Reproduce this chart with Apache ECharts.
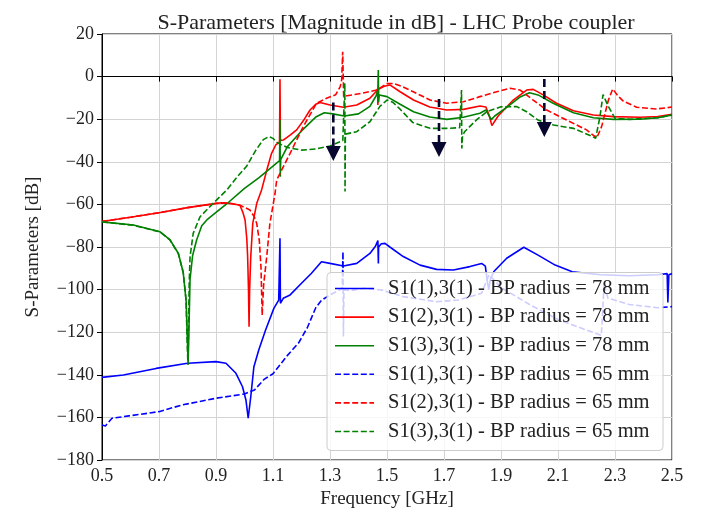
<!DOCTYPE html>
<html><head><meta charset="utf-8">
<script src="https://cdn.jsdelivr.net/npm/echarts@6/dist/echarts.min.js"></script>
<style>html,body{margin:0;padding:0;background:#fff}#c{width:701px;height:510px}</style>
</head><body><div id="c"></div>
<script>
const titleText = 'S-Parameters [Magnitude in dB] - LHC Probe coupler';
const xName = 'Frequency [GHz]';
const yName = 'S-Parameters [dB]';
const seriesNames = [
  'S1(1),3(1) - BP radius = 78 mm',
  'S1(2),3(1) - BP radius = 78 mm',
  'S1(3),3(1) - BP radius = 78 mm',
  'S1(1),3(1) - BP radius = 65 mm',
  'S1(2),3(1) - BP radius = 65 mm',
  'S1(3),3(1) - BP radius = 65 mm'
];
const xTickValues = [0.5,0.7,0.9,1.1,1.3,1.5,1.7,1.9,2.1,2.3,2.5];
const yTickValues = [-180,-160,-140,-120,-100,-80,-60,-40,-20,0,20];

// [frequency GHz, dB]
const s11_78 = [[0.5,-141.2],[0.575,-140.1],[0.69,-137],[0.8,-134.6],[0.9,-133.8],[0.935,-134.6],[0.97,-139.3],[0.993,-145.6],[1.005,-151.8],[1.013,-160.4],[1.022,-150.3],[1.033,-136.2],[1.05,-128.4],[1.074,-119],[1.103,-108.8],[1.12,-104.9],[1.1245,-75.9],[1.126,-106.4],[1.136,-104.1],[1.16,-102.5],[1.2,-97],[1.235,-92.3],[1.27,-86.9],[1.3,-87.7],[1.347,-88.9],[1.394,-87.7],[1.44,-83],[1.46,-79.5],[1.468,-77],[1.469,-76.7],[1.4697,-87.7],[1.4705,-80],[1.48,-78.5],[1.493,-78.3],[1.51,-80],[1.557,-84.5],[1.616,-88.5],[1.674,-90.5],[1.733,-90.8],[1.791,-89.2],[1.832,-87.7],[1.845,-89],[1.852,-96],[1.857,-100],[1.863,-95],[1.875,-91.5],[1.92,-85.3],[1.98,-80.1],[2.03,-83.8],[2.09,-88.5],[2.15,-91.6],[2.25,-93],[2.35,-93.5],[2.45,-93],[2.483,-92.5],[2.4855,-106],[2.489,-93],[2.5,-92.5]];
const s12_78 = [[0.5,-68],[0.6,-66],[0.7,-63.9],[0.8,-61.5],[0.9,-59.5],[0.92,-59.2],[0.95,-59.5],[0.984,-60.4],[0.995,-64],[1.002,-67.3],[1.008,-76],[1.011,-84.5],[1.014,-100],[1.016,-117.4],[1.018,-100],[1.022,-84.5],[1.029,-68.9],[1.043,-59.5],[1.06,-53.2],[1.08,-43],[1.095,-36],[1.11,-32],[1.123,-30.6],[1.1245,-1.3],[1.126,-30],[1.136,-29.8],[1.16,-27.5],[1.183,-25],[1.21,-20],[1.23,-15.7],[1.25,-13],[1.265,-12.2],[1.3,-13.3],[1.347,-14.4],[1.394,-13.3],[1.44,-10.2],[1.462,-7],[1.467,-5.8],[1.468,-13.3],[1.47,-6],[1.49,-4.5],[1.51,-3.9],[1.546,-7.1],[1.593,-11],[1.65,-14.3],[1.71,-15.7],[1.768,-15.4],[1.826,-13.8],[1.847,-14.3],[1.858,-18],[1.868,-23],[1.89,-18.5],[1.943,-11],[1.99,-6.3],[2.013,-6],[2.048,-8.6],[2.095,-12.5],[2.154,-16],[2.224,-18],[2.294,-18.8],[2.388,-19.1],[2.45,-18.7],[2.5,-17.7]];
const s13_78 = [[0.5,-68.2],[0.61,-69.7],[0.703,-72.8],[0.739,-76.7],[0.768,-83],[0.785,-92],[0.795,-105],[0.8,-125],[0.802,-135.4],[0.804,-125],[0.809,-95],[0.818,-84],[0.832,-76.7],[0.85,-70],[0.87,-67],[0.9,-63.8],[0.944,-59],[1.0,-52.5],[1.05,-47.5],[1.1,-42],[1.123,-39.5],[1.1245,-20.4],[1.1255,-47],[1.127,-39],[1.15,-33],[1.2,-25.5],[1.25,-19],[1.28,-17],[1.31,-17.5],[1.35,-18.5],[1.4,-17.5],[1.44,-14],[1.462,-9],[1.468,-6],[1.4695,3.1],[1.4705,-12],[1.473,-8.6],[1.5,-9.4],[1.546,-13],[1.593,-16.5],[1.65,-19],[1.71,-20.1],[1.768,-19.1],[1.826,-17.2],[1.847,-15.7],[1.866,-20.2],[1.878,-18.5],[1.92,-14.4],[1.965,-9.7],[2.0,-7.6],[2.03,-8.6],[2.083,-12.5],[2.154,-17],[2.224,-19.3],[2.294,-20.1],[2.388,-20],[2.45,-19.3],[2.5,-18]];
const s11_65 = [[0.5,-163.6],[0.512,-164],[0.535,-160.4],[0.594,-159.3],[0.7,-157.3],[0.78,-154.2],[0.9,-151],[1.0,-149],[1.035,-147.1],[1.07,-142],[1.1,-139.5],[1.15,-131],[1.19,-125],[1.22,-118],[1.25,-108.5],[1.27,-105],[1.3,-102.5],[1.343,-99.5],[1.3455,-82.2],[1.347,-122],[1.349,-100],[1.37,-100.5],[1.42,-99.4],[1.48,-100.2],[1.557,-103.3],[1.674,-105.7],[1.75,-104.9],[1.832,-101.7],[1.858,-93],[1.9,-99],[2.0,-107],[2.1,-114],[2.2,-119],[2.252,-121.5],[2.262,-97],[2.275,-104],[2.35,-107],[2.45,-108.5],[2.5,-108]];
const s12_65 = [[0.5,-68],[0.6,-66],[0.7,-63.9],[0.8,-61.5],[0.9,-59.6],[0.93,-59.3],[0.96,-59.8],[0.984,-60.4],[1.019,-62.6],[1.035,-66],[1.043,-69],[1.052,-77],[1.058,-90],[1.062,-112],[1.067,-98],[1.078,-84.5],[1.089,-69],[1.107,-55],[1.113,-48.5],[1.16,-36],[1.206,-23.5],[1.253,-12.5],[1.288,-10.2],[1.32,-8.5],[1.336,-4.7],[1.341,-1.5],[1.3445,11.7],[1.348,-9.5],[1.36,-9],[1.41,-7.9],[1.464,-6.3],[1.499,-3.3],[1.522,-3.2],[1.55,-4.5],[1.592,-7.1],[1.651,-11],[1.709,-12.5],[1.768,-11.8],[1.826,-9.4],[1.885,-7.1],[1.932,-5.5],[1.967,-6.3],[2.013,-11],[2.06,-15.7],[2.13,-20.4],[2.2,-25],[2.236,-28.8],[2.253,-23.5],[2.277,-11],[2.292,-5.8],[2.31,-9],[2.329,-11.5],[2.376,-14.4],[2.446,-15.2],[2.5,-14.3]];
const s13_65 = [[0.5,-68.2],[0.61,-69.8],[0.703,-72.9],[0.739,-76.8],[0.768,-83.2],[0.785,-92],[0.795,-105],[0.799,-125],[0.801,-133],[0.803,-125],[0.806,-97],[0.809,-84.5],[0.82,-73.6],[0.844,-65.8],[0.89,-59.5],[0.938,-53.2],[0.975,-47],[1.008,-42],[1.04,-34.5],[1.066,-29.6],[1.085,-28.2],[1.1,-29],[1.115,-31],[1.15,-33.3],[1.2,-34.5],[1.25,-34],[1.3,-32.6],[1.345,-30],[1.351,-29.5],[1.352,-3.1],[1.3528,-54],[1.354,-27],[1.36,-26.5],[1.393,-25.9],[1.44,-21.2],[1.475,-14],[1.5,-11],[1.52,-12],[1.546,-15.3],[1.59,-21.5],[1.651,-24.3],[1.709,-24.3],[1.755,-24],[1.7615,-6.3],[1.7625,-33.7],[1.765,-28],[1.772,-25.9],[1.815,-20.2],[1.85,-16.5],[1.9,-14.2],[1.955,-14.1],[1.99,-16.5],[2.03,-20.4],[2.084,-22.7],[2.154,-24.3],[2.222,-28.2],[2.232,-29],[2.247,-19],[2.258,-8.5],[2.262,-7.6],[2.277,-14.1],[2.3,-19.6],[2.35,-20.1],[2.45,-19.3],[2.5,-18]];

// annotation arrows: frequency, dashed line start (dB), arrow tip (dB)
const arrowFreq = [1.3116, 1.6825, 2.052];
const arrowTop = [-12.2, -10.5, -1.1];
const arrowTip = [-39.6, -37.7, -28.4];

const serif = "'Liberation Serif', 'DejaVu Serif', serif";
const colors = ['#0000ff', '#ff0000', '#008000', '#0000ff', '#ff0000', '#008000'];
const dashPattern = [6, 2.6];
const seriesData = [s11_78, s12_78, s13_78, s11_65, s12_65, s13_65];
const fmtMinus = v => (v < 0 ? '\u2212' + Math.abs(v) : String(v));

const chart = echarts.init(document.getElementById('c'), null, {renderer: 'canvas'});
const allSeries = seriesData.map((d, i) => ({
  name: seriesNames[i],
  type: 'line',
  data: d,
  symbol: 'none',
  showSymbol: false,
  color: colors[i],
  lineStyle: {color: colors[i], width: 1.6, type: i >= 3 ? dashPattern : 'solid'},
  z: 2 + i,
  animation: false
}));

allSeries.push({
  type: 'custom',
  name: 'arrows',
  data: arrowFreq.map((f, i) => [f, arrowTop[i], arrowTip[i]]),
  z: 20,
  animation: false,
  renderItem: function (params, api) {
    const top = api.coord([api.value(0), api.value(1)]);
    const tip = api.coord([api.value(0), api.value(2)]);
    const hh = 15, hw = 7.5;
    return {
      type: 'group',
      children: [
        {type: 'line', shape: {x1: top[0], y1: top[1], x2: tip[0], y2: tip[1] - hh},
          style: {stroke: '#06062e', lineWidth: 2.6, lineDash: [8, 4]}},
        {type: 'polygon', shape: {points: [[tip[0] - hw, tip[1] - hh], [tip[0] + hw, tip[1] - hh], [tip[0], tip[1]]]},
          style: {fill: '#06062e'}}
      ]
    };
  }
});

// legend box drawn as graphic (matplotlib-style, semi-transparent)
const legX = 327, legY = 272.5, legW = 336, legH = 178, rowY0 = 288.5, rowStep = 28.6;
const legendElems = [{
  type: 'rect', z: 100, zlevel: 0, shape: {x: legX, y: legY, width: legW, height: legH, r: 4},
  style: {fill: 'rgba(255,255,255,0.8)', stroke: '#cccccc', lineWidth: 1}
}];
seriesNames.forEach((n, i) => {
  const y = rowY0 + i * rowStep;
  legendElems.push({
    type: 'line', z: 101, shape: {x1: legX + 8, y1: y, x2: legX + 47, y2: y},
    style: {stroke: colors[i], lineWidth: 1.6, lineDash: i >= 3 ? dashPattern : null}
  });
  legendElems.push({
    type: 'text', z: 101, x: legX + 61, y: y,
    style: {text: n, fontFamily: serif, fontSize: 20.5, fill: '#222', verticalAlign: 'middle', textVerticalAlign: 'middle'}
  });
});

chart.setOption({
  animation: false,
  backgroundColor: '#ffffff',
  title: {
    text: titleText, left: 391, top: 7, textAlign: 'center',
    textStyle: {fontFamily: serif, fontSize: 22, fontWeight: 'normal', color: '#222'}
  },
  grid: {left: 102, right: 29, top: 34, bottom: 50, show: true, borderColor: '#000', borderWidth: 1,
         backgroundColor: 'transparent', containLabel: false, outerBoundsMode: 'none'},
  xAxis: {
    type: 'value', min: 0.5, max: 2.5, interval: 0.2,
    name: xName, nameLocation: 'middle', nameGap: 28,
    nameTextStyle: {fontFamily: serif, fontSize: 19, color: '#222'},
    axisLine: {show: true, lineStyle: {color: '#000', width: 1}},
    axisTick: {show: true, length: 5, lineStyle: {color: '#000'}, customValues: xTickValues},
    axisLabel: {customValues: xTickValues, fontFamily: serif, fontSize: 18, color: '#222', margin: 7, formatter: v => Number(v).toFixed(1)},
    splitLine: {show: true, lineStyle: {color: '#d4d4d4', width: 1}}
  },
  yAxis: {
    type: 'value', min: -180, max: 20, interval: 20,
    name: yName, nameLocation: 'middle', nameGap: 59, nameRotate: 90,
    nameTextStyle: {fontFamily: serif, fontSize: 19, color: '#222'},
    axisLine: {show: true, lineStyle: {color: '#000', width: 1}},
    axisTick: {show: true, length: 5, lineStyle: {color: '#000'}, customValues: yTickValues},
    axisLabel: {customValues: yTickValues, fontFamily: serif, fontSize: 18, color: '#222', margin: 8, formatter: fmtMinus},
    splitLine: {show: true, lineStyle: {color: '#d4d4d4', width: 1}}
  },
  graphic: legendElems,
  series: allSeries
});
</script></body></html>
